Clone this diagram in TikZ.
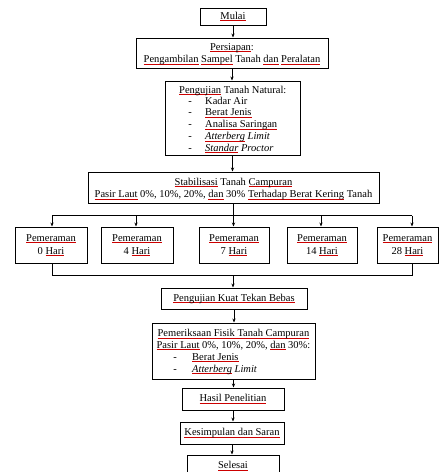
\documentclass[tikz,border=0pt]{standalone}
\usepackage{fontspec}
\setmainfont{Liberation Serif}
\usetikzlibrary{arrows.meta}
\newsavebox\sqbox
\newcommand\sq[1]{\sbox\sqbox{#1}\rlap{\color{red!80!black}\rule[-1.8pt]{\wd\sqbox}{0.5pt}}\usebox\sqbox}
\begin{document}
\begin{tikzpicture}[x=1pt,y=-1pt,
  every node/.style={font=\fontsize{10.5}{13}\selectfont, inner sep=0pt},
  box/.style={draw, line width=1pt, text height=7pt, text depth=2pt},
  pbox/.style={draw, line width=1pt, align=center, minimum height=36pt},
  txt/.style={text height=7pt, text depth=2pt},
  arr/.style={-{Stealth[length=4pt,width=3.2pt]}, line width=0.9pt},
  ln/.style={line width=1pt}]
\useasboundingbox (0,0) rectangle (440,472);

% top part
\node[box, minimum width=66pt, minimum height=17pt] (mulai) at (233,16.5) {\sq{Mulai}};
\node[box, minimum width=192pt, minimum height=30pt] (prep) at (232,53) {};
\node[txt] (prepA) at (232,47.5) {\sq{Persiapan}:};
\node[txt] (prepB) at (232,60) {\sq{Pengambilan} \sq{Sampel} Tanah \sq{dan} \sq{Peralatan}};

\node[box, minimum width=135pt, minimum height=74pt] (nat) at (232.5,118) {};
\node[txt, anchor=west] (natT) at (179,90.5) {\sq{Pengujian} Tanah Natural:};
\node[txt] (d1) at (190,101.5) {-};
\node[txt] (d2) at (190,113) {-};
\node[txt] (d3) at (190,125) {-};
\node[txt] (d4) at (190,137) {-};
\node[txt] (d5) at (190,148.5) {-};
\node[txt, anchor=west] (i1) at (205,101.5) {Kadar Air};
\node[txt, anchor=west] (i2) at (205,113) {\sq{Berat Jenis}};
\node[txt, anchor=west] (i3) at (205,125) {\sq{Analisa Saringan}};
\node[txt, anchor=west] (i4) at (205,137) {\textit{\sq{Atterberg} Limit}};
\node[txt, anchor=west] (i5) at (205,148.5) {\textit{\sq{Standar} Proctor}};

\node[box, minimum width=291pt, minimum height=31pt] (stab) at (233.5,187.5) {};
\node[txt] (stabA) at (233.5,182.5) {\sq{Stabilisasi} Tanah \sq{Campuran}};
\node[txt] (stabB) at (233.5,195) {\sq{Pasir Laut} 0\%, 10\%, 20\%, \sq{dan} 30\% \sq{Terhadap Berat Kering} Tanah};

% curing boxes
\node[pbox, minimum width=72pt] (p1) at (51,245) {\sq{Pemeraman}\\0 \sq{Hari}};
\node[pbox, minimum width=72pt] (p2) at (137,245) {\sq{Pemeraman}\\4 \sq{Hari}};
\node[pbox, minimum width=70pt] (p3) at (234,245) {\sq{Pemeraman}\\7 \sq{Hari}};
\node[pbox, minimum width=70pt] (p4) at (322,245) {\sq{Pemeraman}\\14 \sq{Hari}};
\node[pbox, minimum width=61pt] (p5) at (407.5,245) {\sq{Pemeraman}\\28 \sq{Hari}};

% lower part
\node[box, minimum width=146pt, minimum height=21pt] (kuat) at (234,298.5) {\sq{Pengujian Kuat Tekan Bebas}};
\node[box, minimum width=163pt, minimum height=56pt] (pem) at (233.5,351) {};
\node[txt] (pemA) at (233.5,334) {\sq{Pemeriksaan Fisik Tanah Campuran}};
\node[txt] (pemB) at (233.5,345.5) {\sq{Pasir Laut} 0\%, 10\%, 20\%, \sq{dan} 30\%:};
\node[txt] (e1) at (175,357.5) {-};
\node[txt] (e2) at (175,369.5) {-};
\node[txt, anchor=west] (j1) at (192,357.5) {\sq{Berat Jenis}};
\node[txt, anchor=west] (j2) at (192,369.5) {\textit{\sq{Atterberg} Limit}};

\node[box, minimum width=102pt, minimum height=22pt] (hasil) at (233,399) {\sq{Hasil Penelitian}};
\node[box, minimum width=104pt, minimum height=22pt] (kes) at (232,433) {\sq{Kesimpulan dan Saran}};
\node[box, minimum width=92pt, minimum height=22pt] (sel) at (233,466) {\sq{Selesai}};

% connectors
\draw[arr] (mulai.south) -- (mulai.south |- prep.north);
\draw[arr] (prep.south) -- (prep.south |- nat.north);
\draw[arr] (nat.south) -- (nat.south |- stab.north);

\coordinate (tbL) at (52,215.5);
\coordinate (tbR) at (412,215.5);
\coordinate (tbM) at (233.5,215.5);
\coordinate (tb2) at (136,215.5);
\coordinate (tb4) at (321,215.5);
\draw[ln] (stab.south) -- (tbM);
\draw[ln] (tbL) -- (tbR);
\draw[arr] (tbL) -- (tbL |- p1.north);
\draw[arr] (tb2) -- (tb2 |- p2.north);
\draw[arr] (tbM) -- (tbM |- p3.north);
\draw[arr] (tb4) -- (tb4 |- p4.north);
\draw[arr] (tbR) -- (tbR |- p5.north);

\coordinate (bbL) at (52,275);
\coordinate (bbR) at (412,275);
\coordinate (bbM) at (233,275);
\draw[ln] (p1.south -| bbL) -- (bbL) -- (bbR) -- (p5.south -| bbR);
\draw[arr] (bbM) -- (bbM |- kuat.north);
\draw[arr] (kuat.south) -- (kuat.south |- pem.north);
\draw[arr] (pem.south) -- (pem.south |- hasil.north);
\draw[arr] (hasil.south) -- (hasil.south |- kes.north);
\draw[arr] (kes.south) -- (kes.south |- sel.north);
\end{tikzpicture}
\end{document}
